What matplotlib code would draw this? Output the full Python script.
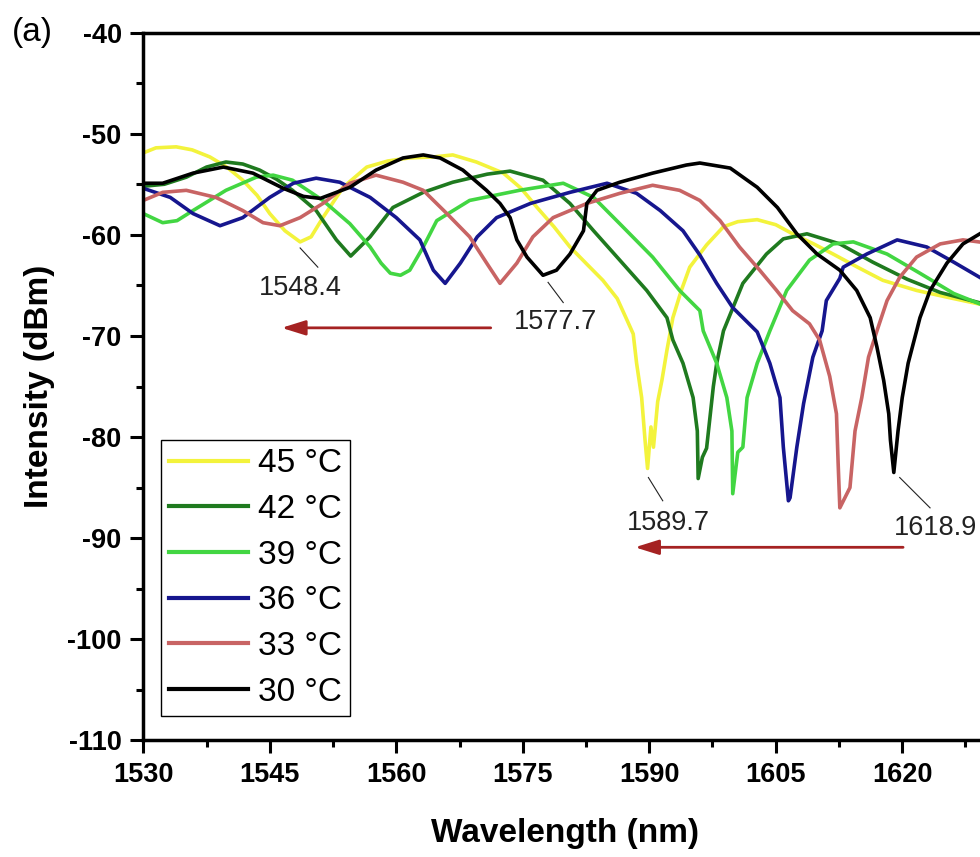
import matplotlib
matplotlib.use("Agg")
import matplotlib.pyplot as plt
from matplotlib.ticker import MultipleLocator
import numpy as np

plt.rcParams['font.family'] = ['Liberation Sans', 'DejaVu Sans']
plt.rcParams['axes.unicode_minus'] = False

# Spectra (wavelength in nm, intensity in dBm)
x45 = [1530, 1531.5, 1533.9, 1535.8, 1537.9, 1539.9, 1541.8, 1543.5, 1545.0, 1546.8, 1548.6, 1549.9,
       1551.3, 1552.5, 1553.7, 1556.5, 1559.0, 1561.5, 1564.4, 1566.7, 1569.5, 1572.7, 1574.8, 1576.7,
       1578.7, 1580.6, 1582.6, 1584.5, 1586.2, 1587.4, 1588.1, 1588.5, 1589.1, 1589.5, 1589.8, 1590.2,
       1590.5, 1591.0, 1591.5, 1592.1, 1592.8, 1593.8, 1594.8, 1596.8, 1598.8, 1600.5, 1602.8, 1605.0,
       1607.0, 1609.5, 1611.8, 1614.7, 1617.7, 1621.7, 1625.5, 1630.0]
y45 = [-51.9, -51.4, -51.3, -51.6, -52.3, -53.3, -54.6, -56.1, -57.9, -59.6, -60.7, -60.2,
       -58.3, -56.8, -55.3, -53.3, -52.7, -52.4, -52.3, -52.1, -52.8, -53.9, -55.4, -57.3,
       -59.2, -61.2, -62.9, -64.5, -66.3, -68.5, -69.8, -72.7, -76.1, -80.3, -83.1, -79.0,
       -81.0, -76.5, -74.4, -71.4, -68.2, -65.5, -63.2, -61.0, -59.2, -58.7, -58.5, -59.0,
       -59.9, -60.9, -61.9, -63.2, -64.5, -65.5, -66.2, -67.0]

x42 = [1530, 1532.5, 1535.1, 1537.5, 1539.8, 1541.8, 1543.8, 1545.8, 1547.7, 1550.5, 1552.9, 1554.6,
       1556.9, 1559.6, 1563.2, 1566.7, 1570.8, 1573.5, 1577.4, 1580.6, 1583.4, 1586.5, 1589.7, 1592.1,
       1592.8, 1594.0, 1595.2, 1595.7, 1595.8, 1596.3, 1596.8, 1597.6, 1598.0, 1598.8, 1601.1, 1603.9,
       1605.9, 1608.7, 1612.6, 1616.5, 1620.6, 1624.5, 1630]
y42 = [-55.2, -55.0, -54.3, -53.3, -52.8, -53.0, -53.6, -54.5, -55.6, -57.6, -60.5, -62.1,
       -60.2, -57.3, -55.8, -54.8, -54.0, -53.7, -54.6, -56.9, -59.6, -62.5, -65.5, -68.2,
       -70.4, -72.7, -76.1, -79.4, -84.1, -82.0, -81.1, -75.0, -72.7, -69.5, -64.8, -61.9,
       -60.4, -59.9, -60.9, -62.7, -64.4, -65.7, -66.9]

x39 = [1530, 1532.3, 1534.0, 1535.9, 1539.8, 1543.4, 1545.4, 1547.7, 1551.3, 1554.5, 1556.9, 1558.2,
       1559.3, 1560.5, 1561.6, 1563.2, 1564.8, 1568.7, 1574.6, 1579.8, 1583.4, 1586.5, 1590.4, 1593.6,
       1596.0, 1596.4, 1598.0, 1599.2, 1599.8, 1599.9, 1600.5, 1601.1, 1601.6, 1602.8, 1604.3, 1606.3,
       1609.0, 1611.8, 1614.2, 1618.2, 1622.1, 1626.1, 1630]
y39 = [-57.9, -58.8, -58.6, -57.6, -55.6, -54.3, -54.1, -54.6, -56.6, -58.9, -61.2, -62.8,
       -63.8, -64.0, -63.5, -61.2, -58.6, -56.6, -55.6, -54.9, -56.3, -58.9, -62.2, -65.5,
       -67.5, -69.5, -72.7, -76.1, -79.4, -85.6, -81.5, -81.0, -76.1, -72.7, -69.5, -65.5,
       -62.5, -60.9, -60.7, -61.9, -63.8, -65.8, -67.1]

x36 = [1530, 1533.2, 1535.9, 1539.1, 1541.8, 1545.0, 1547.8, 1550.5, 1553.3, 1556.9, 1560.0, 1562.8,
       1564.4, 1565.8, 1567.6, 1569.6, 1571.9, 1575.9, 1580.6, 1585.0, 1588.5, 1591.3, 1594.0, 1596.0,
       1598.0, 1599.9, 1602.8, 1604.3, 1605.5, 1605.9, 1606.5, 1606.7, 1607.5, 1608.3, 1609.4, 1610.5,
       1611.0, 1612.6, 1613.0, 1615.8, 1619.4, 1622.9, 1626.1, 1630]
y36 = [-55.4, -56.3, -57.9, -59.1, -58.3, -56.3, -54.9, -54.4, -54.8, -56.3, -58.3, -60.5,
       -63.5, -64.8, -62.8, -60.2, -58.3, -56.9, -55.8, -54.9, -55.9, -57.6, -59.6, -62.0,
       -64.8, -67.2, -69.6, -72.7, -76.1, -81.0, -86.3, -86.0, -81.0, -76.7, -72.1, -69.5,
       -66.5, -64.3, -63.2, -61.9, -60.5, -61.2, -62.7, -64.6]

x33 = [1530, 1532.3, 1535.1, 1538.6, 1541.8, 1544.2, 1546.2, 1548.6, 1551.3, 1554.5, 1557.6, 1560.8,
       1563.2, 1566.0, 1568.7, 1570.8, 1572.3, 1574.3, 1576.2, 1578.6, 1582.6, 1586.5, 1590.4, 1593.6,
       1596.0, 1598.4, 1600.7, 1603.1, 1605.1, 1607.0, 1609.0, 1610.2, 1611.4, 1612.2, 1612.4, 1612.6,
       1613.8, 1614.4, 1615.2, 1616.0, 1617.0, 1618.2, 1619.7, 1621.7, 1624.5, 1627.2, 1630]
y33 = [-56.6, -55.8, -55.6, -56.3, -57.6, -58.8, -59.1, -58.3, -56.9, -54.9, -54.1, -54.8,
       -55.6, -57.9, -60.2, -62.9, -64.8, -62.8, -60.2, -58.3, -56.9, -55.9, -55.1, -55.6,
       -56.6, -58.6, -61.2, -63.5, -65.5, -67.5, -68.8, -70.4, -74.0, -77.7, -82.6, -87.0,
       -85.0, -79.4, -76.1, -72.1, -69.5, -66.5, -64.2, -62.2, -60.9, -60.5, -60.8]

x30 = [1530, 1532.3, 1535.9, 1539.5, 1543.0, 1546.6, 1549.0, 1551.0, 1554.5, 1557.6, 1560.8, 1563.2,
       1565.2, 1567.9, 1570.7, 1572.3, 1573.5, 1574.3, 1575.5, 1577.4, 1579.0, 1580.6, 1582.2, 1582.6,
       1583.8, 1586.5, 1590.4, 1594.4, 1596.0, 1599.6, 1602.8, 1605.2, 1607.5, 1609.9, 1612.6, 1614.6,
       1616.2, 1617.0, 1617.8, 1618.4, 1618.6, 1619.0, 1619.5, 1620.0, 1620.7, 1621.7, 1622.1, 1623.3,
       1625.3, 1627.2, 1630]
y30 = [-54.9, -54.9, -53.9, -53.3, -53.9, -55.4, -56.2, -56.4, -55.3, -53.6, -52.4, -52.1,
       -52.4, -53.6, -55.6, -56.9, -58.3, -60.5, -62.2, -64.0, -63.5, -61.9, -59.6, -56.9,
       -55.6, -54.8, -53.9, -53.1, -52.9, -53.4, -55.3, -57.3, -59.9, -61.9, -63.5, -65.5,
       -68.2, -71.1, -74.4, -77.7, -80.3, -83.5, -79.4, -76.1, -72.7, -69.5, -68.2, -65.5,
       -62.8, -60.9, -59.5]

series = [(x45, y45), (x42, y42), (x39, y39), (x36, y36), (x33, y33), (x30, y30)]
labels = ['45 °C', '42 °C', '39 °C', '36 °C', '33 °C', '30 °C']
colors = ['#f3f33c', '#1f7a1f', '#42d642', '#16168e', '#c86464', '#000000']

# dip labels
dip_text = ['1548.4', '1577.7', '1589.7', '1618.9']
dip_text_xy = [(1548.6, -65.3), (1578.9, -68.6), (1592.3, -88.5), (1623.9, -89.0)]
dip_line_from = [(1548.6, -61.3), (1578.0, -64.7), (1589.9, -84.0), (1619.7, -84.0)]
dip_line_to = [(1550.7, -63.2), (1579.8, -66.7), (1591.6, -86.3), (1623.3, -87.0)]

# shift arrows (tip, tail)
arrow_tips = [(1546.4, -69.2), (1588.3, -90.9)]
arrow_tails = [(1571.2, -69.2), (1620.1, -90.9)]

fig = plt.figure(figsize=(9.8, 8.57), dpi=100)
ax = fig.add_axes([0.1462, 0.136, 0.8605, 0.826])

for (x, y), lab, c in zip(series, labels, colors):
    ax.plot(x, y, color=c, lw=2.6, label=lab)

for t, pt, p0, p1 in zip(dip_text, dip_text_xy, dip_line_from, dip_line_to):
    ax.plot([p0[0], p1[0]], [p0[1], p1[1]], color='#222222', lw=0.8)
    ax.text(pt[0], pt[1], t, fontsize=19.5, ha='center', va='center', color='#222222')

for tip, tail in zip(arrow_tips, arrow_tails):
    ax.annotate('', xy=tip, xytext=tail,
                arrowprops=dict(arrowstyle='-|>,head_length=0.8,head_width=0.25',
                                color='#a52222', lw=2, mutation_scale=18,
                                shrinkA=0, shrinkB=0))

ax.set_xlim(1530, 1630)
ax.set_ylim(-110, -40)
ax.set_xticks(np.arange(1530, 1621, 15))
ax.set_yticks(np.arange(-110, -39, 10))
ax.xaxis.set_minor_locator(MultipleLocator(7.5))
ax.yaxis.set_minor_locator(MultipleLocator(5))
ax.tick_params(which='major', length=9.5, width=2.2, labelsize=19.5, pad=6)
ax.tick_params(which='minor', length=5, width=2.2)
for lab in ax.get_xticklabels() + ax.get_yticklabels():
    lab.set_fontweight('bold')
for s in ax.spines.values():
    s.set_linewidth(2.5)

ax.set_xlabel('Wavelength (nm)', fontsize=24, fontweight='bold')
ax.set_ylabel('Intensity (dBm)', fontsize=24, fontweight='bold')
ax.xaxis.set_label_coords(0.5, -0.109)
ax.yaxis.set_label_coords(-0.105, 0.5)

leg = ax.legend(loc='upper left', bbox_to_anchor=(161 / 980, 1 - 440 / 857),
                bbox_transform=fig.transFigure, fontsize=24, fancybox=False,
                edgecolor='black', framealpha=1, borderaxespad=0, handlelength=2.35,
                handletextpad=0.3, labelspacing=0.44, borderpad=0.25)
leg.get_frame().set_linewidth(1.0)
for line in leg.get_lines():
    line.set_linewidth(3)

fig.text(32 / 980, 1 - 33 / 857, '(a)', fontsize=24, ha='center', va='center')

fig.savefig('out.png', dpi=100)
